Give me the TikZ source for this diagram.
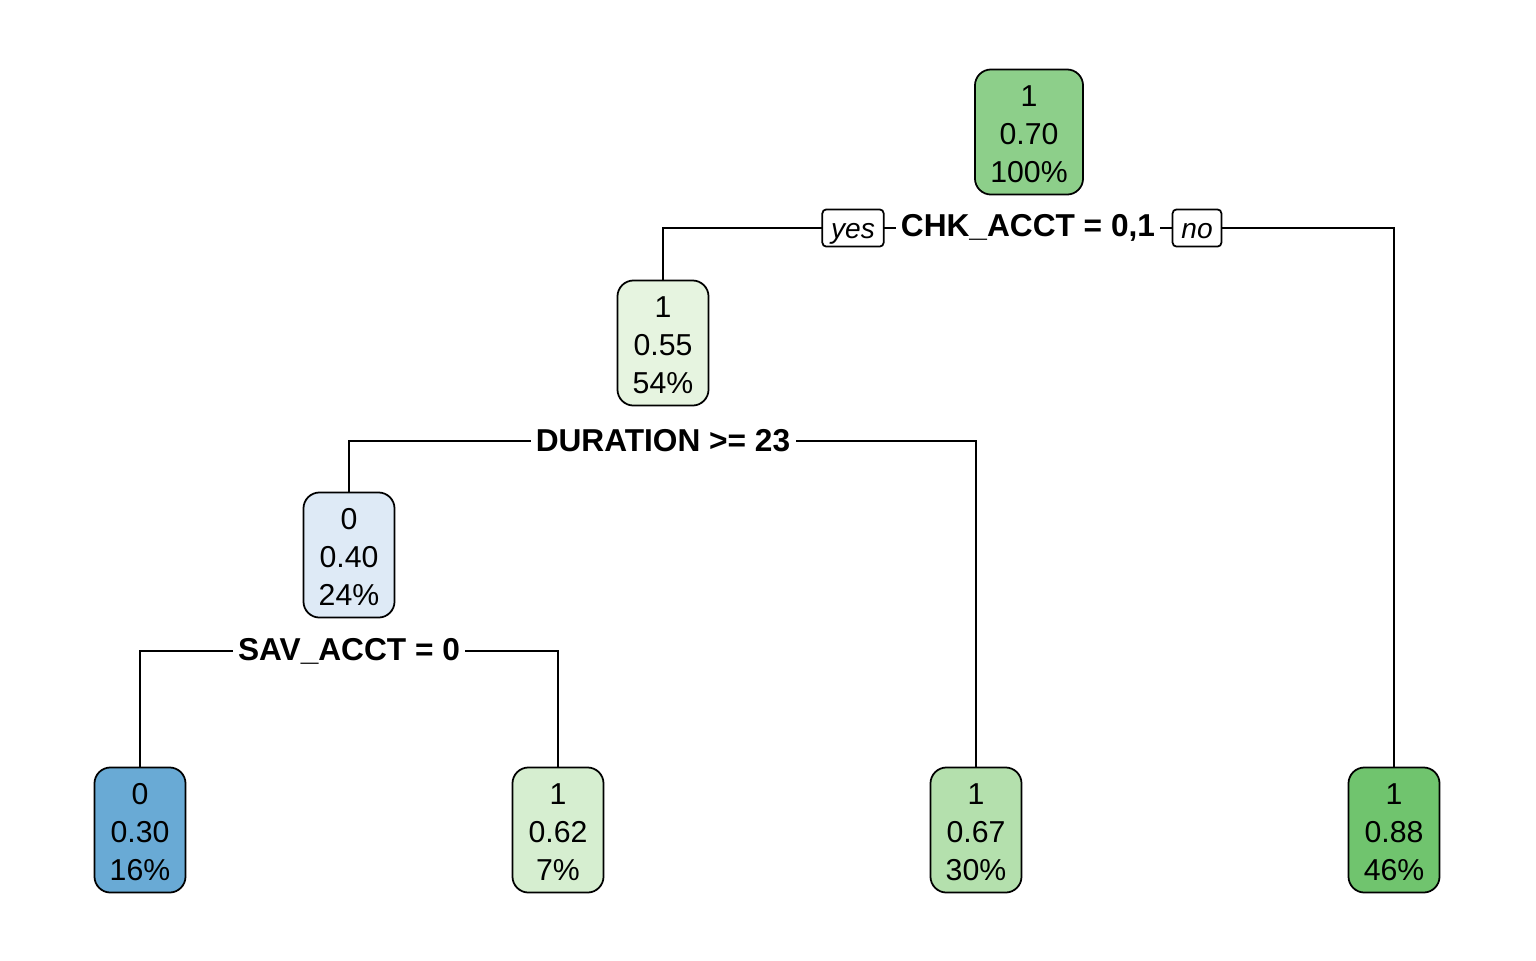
\documentclass[tikz,border=0pt]{standalone}
\usepackage{fontspec}
\setmainfont{Liberation Sans}
\usepackage{xcolor}
\usetikzlibrary{backgrounds}
\definecolor{gnA}{HTML}{8DCF8A}
\definecolor{gnB}{HTML}{E6F4E0}
\definecolor{gnC}{HTML}{D6EED0}
\definecolor{gnD}{HTML}{B4E0AD}
\definecolor{gnE}{HTML}{70C46E}
\definecolor{buA}{HTML}{DEEAF6}
\definecolor{buB}{HTML}{69AAD5}
\newcommand{\topstrut}{\rule{0pt}{7.4pt}}
\tikzset{
  treebox/.style={draw=black,line width=0.5pt,rounded corners=0.16cm,align=center,
    minimum width=0.91cm,minimum height=1.25cm,inner sep=0pt,
    font=\fontsize{8.6}{10.8}\selectfont},
  splitlabel/.style={fill=white,inner sep=1.5pt,font=\fontsize{9}{10}\selectfont\bfseries},
  yesno/.style={draw=black,fill=white,line width=0.5pt,rounded corners=0.04cm,
    minimum height=0.36cm,inner xsep=2.5pt,inner ysep=0pt,
    text height=1.55ex,text depth=0.45ex,
    font=\fontsize{8}{9}\selectfont\itshape},
  treeline/.style={line width=0.5pt}
}
\begin{document}
\begin{tikzpicture}[x=0.01cm,y=-0.01cm]
  \useasboundingbox (0,0) rectangle (1536,960);
  % tree nodes
  \node[treebox,fill=gnA,minimum width=1.08cm] (root) at (1029,132) {\topstrut1\\0.70\\100\%};
  \node[treebox,fill=gnB] (dn) at (663,343) {\topstrut1\\0.55\\54\%};
  \node[treebox,fill=buA] (sn) at (349,555) {\topstrut0\\0.40\\24\%};
  \node[treebox,fill=buB] (leafa) at (140,830) {\topstrut0\\0.30\\16\%};
  \node[treebox,fill=gnC] (leafb) at (558,830) {\topstrut1\\0.62\\7\%};
  \node[treebox,fill=gnD] (leafc) at (976,830) {\topstrut1\\0.67\\30\%};
  \node[treebox,fill=gnE] (leafd) at (1394,830) {\topstrut1\\0.88\\46\%};
  % split labels
  \node[splitlabel] (chk) at (1028,228) {CHK\_ACCT = 0,1};
  \node[yesno] (yes) at (853,228) {yes};
  \node[yesno] (no) at (1197,228) {no};
  \node[splitlabel] (dur) at (663,441) {DURATION >= 23};
  \node[splitlabel] (sav) at (349,651) {SAV\_ACCT = 0};
  \begin{scope}[on background layer]
    \draw[treeline] (dn.north) |- (chk.center) -| (leafd.north);
    \draw[treeline] (sn.north) |- (dur.center) -| (leafc.north);
    \draw[treeline] (leafa.north) |- (sav.center) -| (leafb.north);
  \end{scope}
\end{tikzpicture}
\end{document}
